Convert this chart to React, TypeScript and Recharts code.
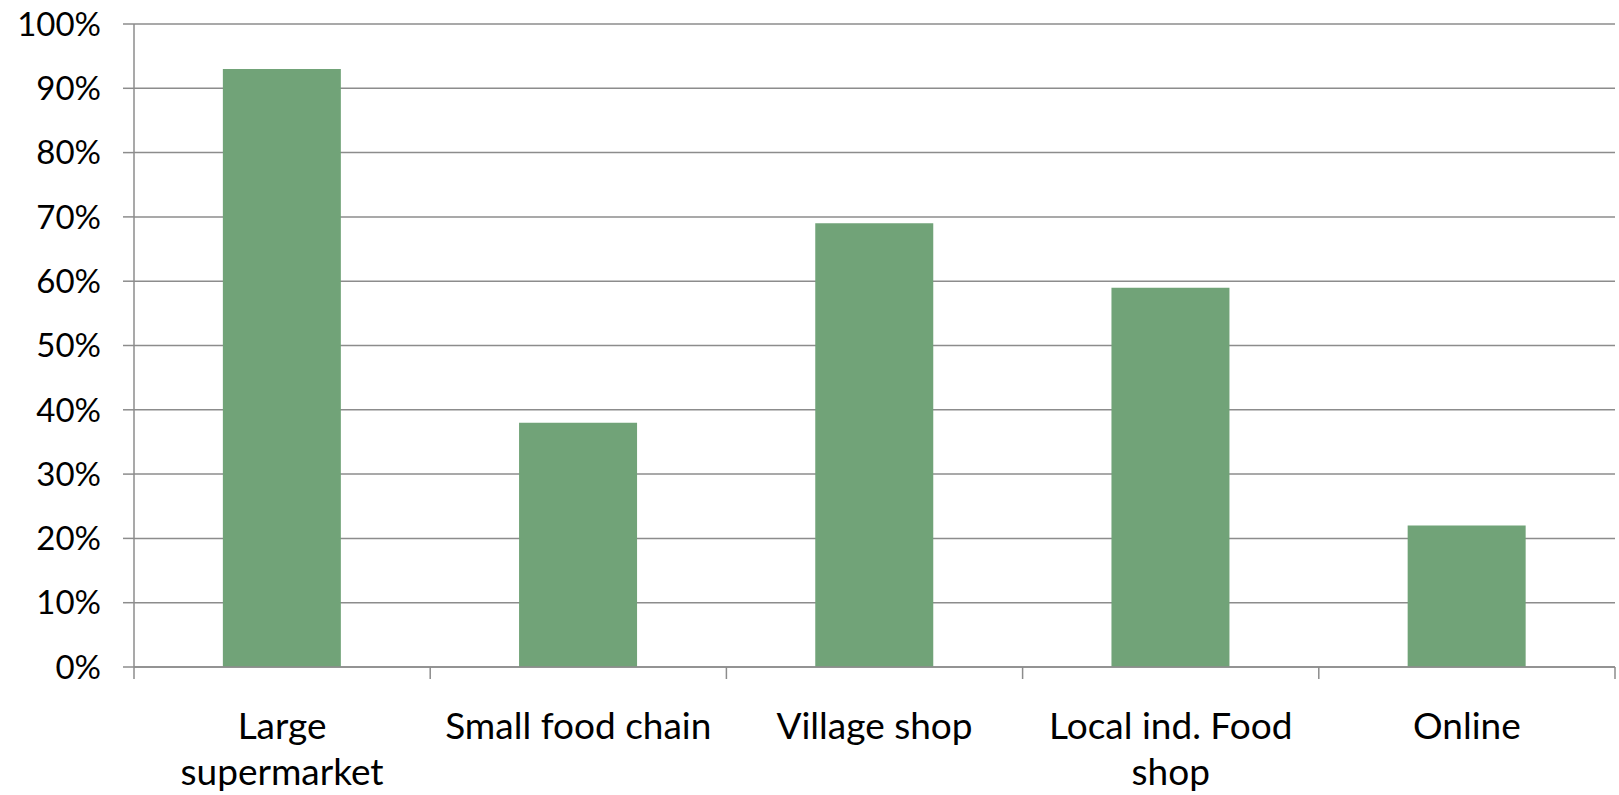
import { BarChart, Bar, XAxis, YAxis, CartesianGrid } from 'recharts';

const categories = ['Large supermarket', 'Small food chain', 'Village shop', 'Local ind. Food shop', 'Online'];
const tickLines = [['Large', 'supermarket'], ['Small food chain'], ['Village shop'], ['Local ind. Food', 'shop'], ['Online']];
const shares = [93, 38, 69, 59, 22];
const yTicks = [0, 10, 20, 30, 40, 50, 60, 70, 80, 90, 100];
const boundaryTicks = [0, 1, 2, 3, 4, 5];

// slot = middle of each category on the 0..5 boundary axis
const data = categories.map((name, i) => ({ name, value: shares[i], slot: i + 0.5 }));

const FONT = 'Lato, "Noto Sans", sans-serif';
const GRID = '#8c8c8c';

// eslint-disable-next-line @typescript-eslint/no-explicit-any
const CatTick = ({ x, y, index }: any) => {
  const lines = tickLines[index] || [];
  return (
    <text x={x} y={y} textAnchor="middle" fontFamily={FONT} fontSize={37} fill="#000">
      {lines.map((l, i) => (
        <tspan key={i} x={x} dy={i === 0 ? 63 : 46}>{l}</tspan>
      ))}
    </text>
  );
};

// boundary ticks only, no label
const NoLabel = () => <g />;

export default function App() {
  return (
    <div style={{ position: 'absolute', left: 0, top: 0, width: 1619, height: 795, background: '#fff' }}>
      <BarChart width={1619} height={795} data={data} margin={{ top: 24, right: 4, left: 0, bottom: 0 }} barCategoryGap="30%">
        <CartesianGrid vertical={false} stroke={GRID} strokeWidth={1.5} />
        <XAxis
          xAxisId="a"
          dataKey="slot"
          type="number"
          domain={[0, 5]}
          allowDataOverflow
          ticks={boundaryTicks}
          interval={0}
          height={1}
          axisLine={{ stroke: GRID, strokeWidth: 1.5 }}
          tickLine={{ stroke: GRID, strokeWidth: 1.5 }}
          tickSize={12}
          tick={<NoLabel />}
        />
        <XAxis
          dataKey="name"
          xAxisId="b"
          height={127}
          axisLine={false}
          tickLine={false}
          tick={<CatTick />}
          interval={0}
        />
        <YAxis
          width={134}
          domain={[0, 100]}
          ticks={yTicks}
          tickFormatter={v => `${v}%`}
          axisLine={{ stroke: GRID, strokeWidth: 1.5 }}
          tickLine={{ stroke: GRID, strokeWidth: 1.5 }}
          tickSize={11}
          tickMargin={22}
          tick={{ fill: '#000', fontSize: 33, fontFamily: FONT }}
        />
        <Bar dataKey="value" xAxisId="b" fill="#71a378" isAnimationActive={false} />
      </BarChart>
    </div>
  );
}
